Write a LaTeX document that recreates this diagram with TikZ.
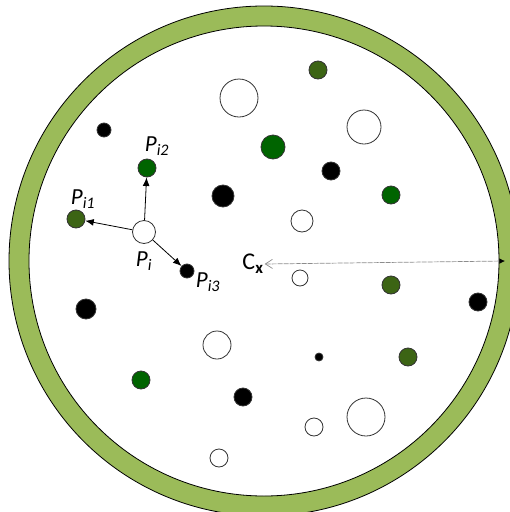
\documentclass[tikz,border=0pt]{standalone}
\usepackage{fontspec}
\setmainfont{Carlito}
\usetikzlibrary{arrows.meta}
\definecolor{ringgreen}{RGB}{155,187,89}
\definecolor{dkgreen}{RGB}{0,100,0}
\definecolor{olgreen}{RGB}{60,100,20}
\begin{document}
\begin{tikzpicture}[x=1pt, y=-1pt, >={Latex[length=3mm, width=2.4mm]},
	dot/.style={circle, draw=black!80, line width=0.8pt, inner sep=0pt},
	wdot/.style={dot, fill=white},
	bdot/.style={dot, fill=black},
	gdot/.style={dot, fill=dkgreen},
	odot/.style={dot, fill=olgreen},
	lab/.style={font=\fontsize{23}{25}\selectfont\itshape, inner sep=0pt}]
	\useasboundingbox (0,0) rectangle (510,512);
	\coordinate (c) at (264,261);
	% ring
	\fill[ringgreen, even odd rule] (c) circle (255pt) (c) circle (235pt);
	\draw[line width=0.8pt] (c) circle (255pt);
	\draw[line width=0.8pt] (c) circle (235pt);
	% particles
	\foreach \x/\y/\r [count=\n] in {239/98/19, 364/127/17, 302/221/11, 300/278/8, 217/345/14, 366/417/19, 314/427/9, 219/458/9}
		{\node[wdot, minimum size=2*\r pt] (w\n) at (\x,\y) {};}
	\foreach \x/\y/\r [count=\n] in {104/130/7, 331/171/9, 223/196/11, 478/302/9, 86/309/10, 319/357/4, 243/397/9}
		{\node[bdot, minimum size=2*\r pt] (b\n) at (\x,\y) {};}
	\foreach \x/\y/\r [count=\n] in {273/147/12, 391/195/9, 141/380/9}
		{\node[gdot, minimum size=2*\r pt] (g\n) at (\x,\y) {};}
	\foreach \x/\y/\r [count=\n] in {318/70/9, 391/285/9, 408/357/9}
		{\node[odot, minimum size=2*\r pt] (o\n) at (\x,\y) {};}
	% neighbours of P_i
	\node[wdot, minimum size=23pt] (pi) at (144,232) {};
	\node[odot, minimum size=18pt] (pi1) at (76,219) {};
	\node[gdot, minimum size=18pt] (pi2) at (147,168) {};
	\node[bdot, minimum size=14pt] (pi3) at (187,271) {};
	\node[lab] (lpi) at (144,261) {P\textsubscript{i}};
	\node[lab] (lpi1) at (83,199) {P\textsubscript{i1}};
	\node[lab] (lpi2) at (157,146) {P\textsubscript{i2}};
	\node[lab] (lpi3) at (208,282) {P\textsubscript{i3}};
	\draw[->, line width=0.8pt] (pi) -- (pi1);
	\draw[->, line width=0.8pt] (pi) -- (pi2);
	\draw[->, line width=0.8pt] (pi) -- (pi3);
	% radius to the ring
	\node[font=\fontsize{24}{26}\selectfont, inner sep=1pt] (cx) at (253,264) {C\textsubscript{\bfseries x}};
	\coordinate (rim) at (505,261);
	\draw[black!45, dash pattern=on 5pt off 1pt, line width=0.7pt,
		{Straight Barb[length=2.5mm, width=3.2mm, line width=0.7pt]}-{Latex[length=2mm, width=2mm, black]}] (cx.east) -- (rim);
\end{tikzpicture}
\end{document}
